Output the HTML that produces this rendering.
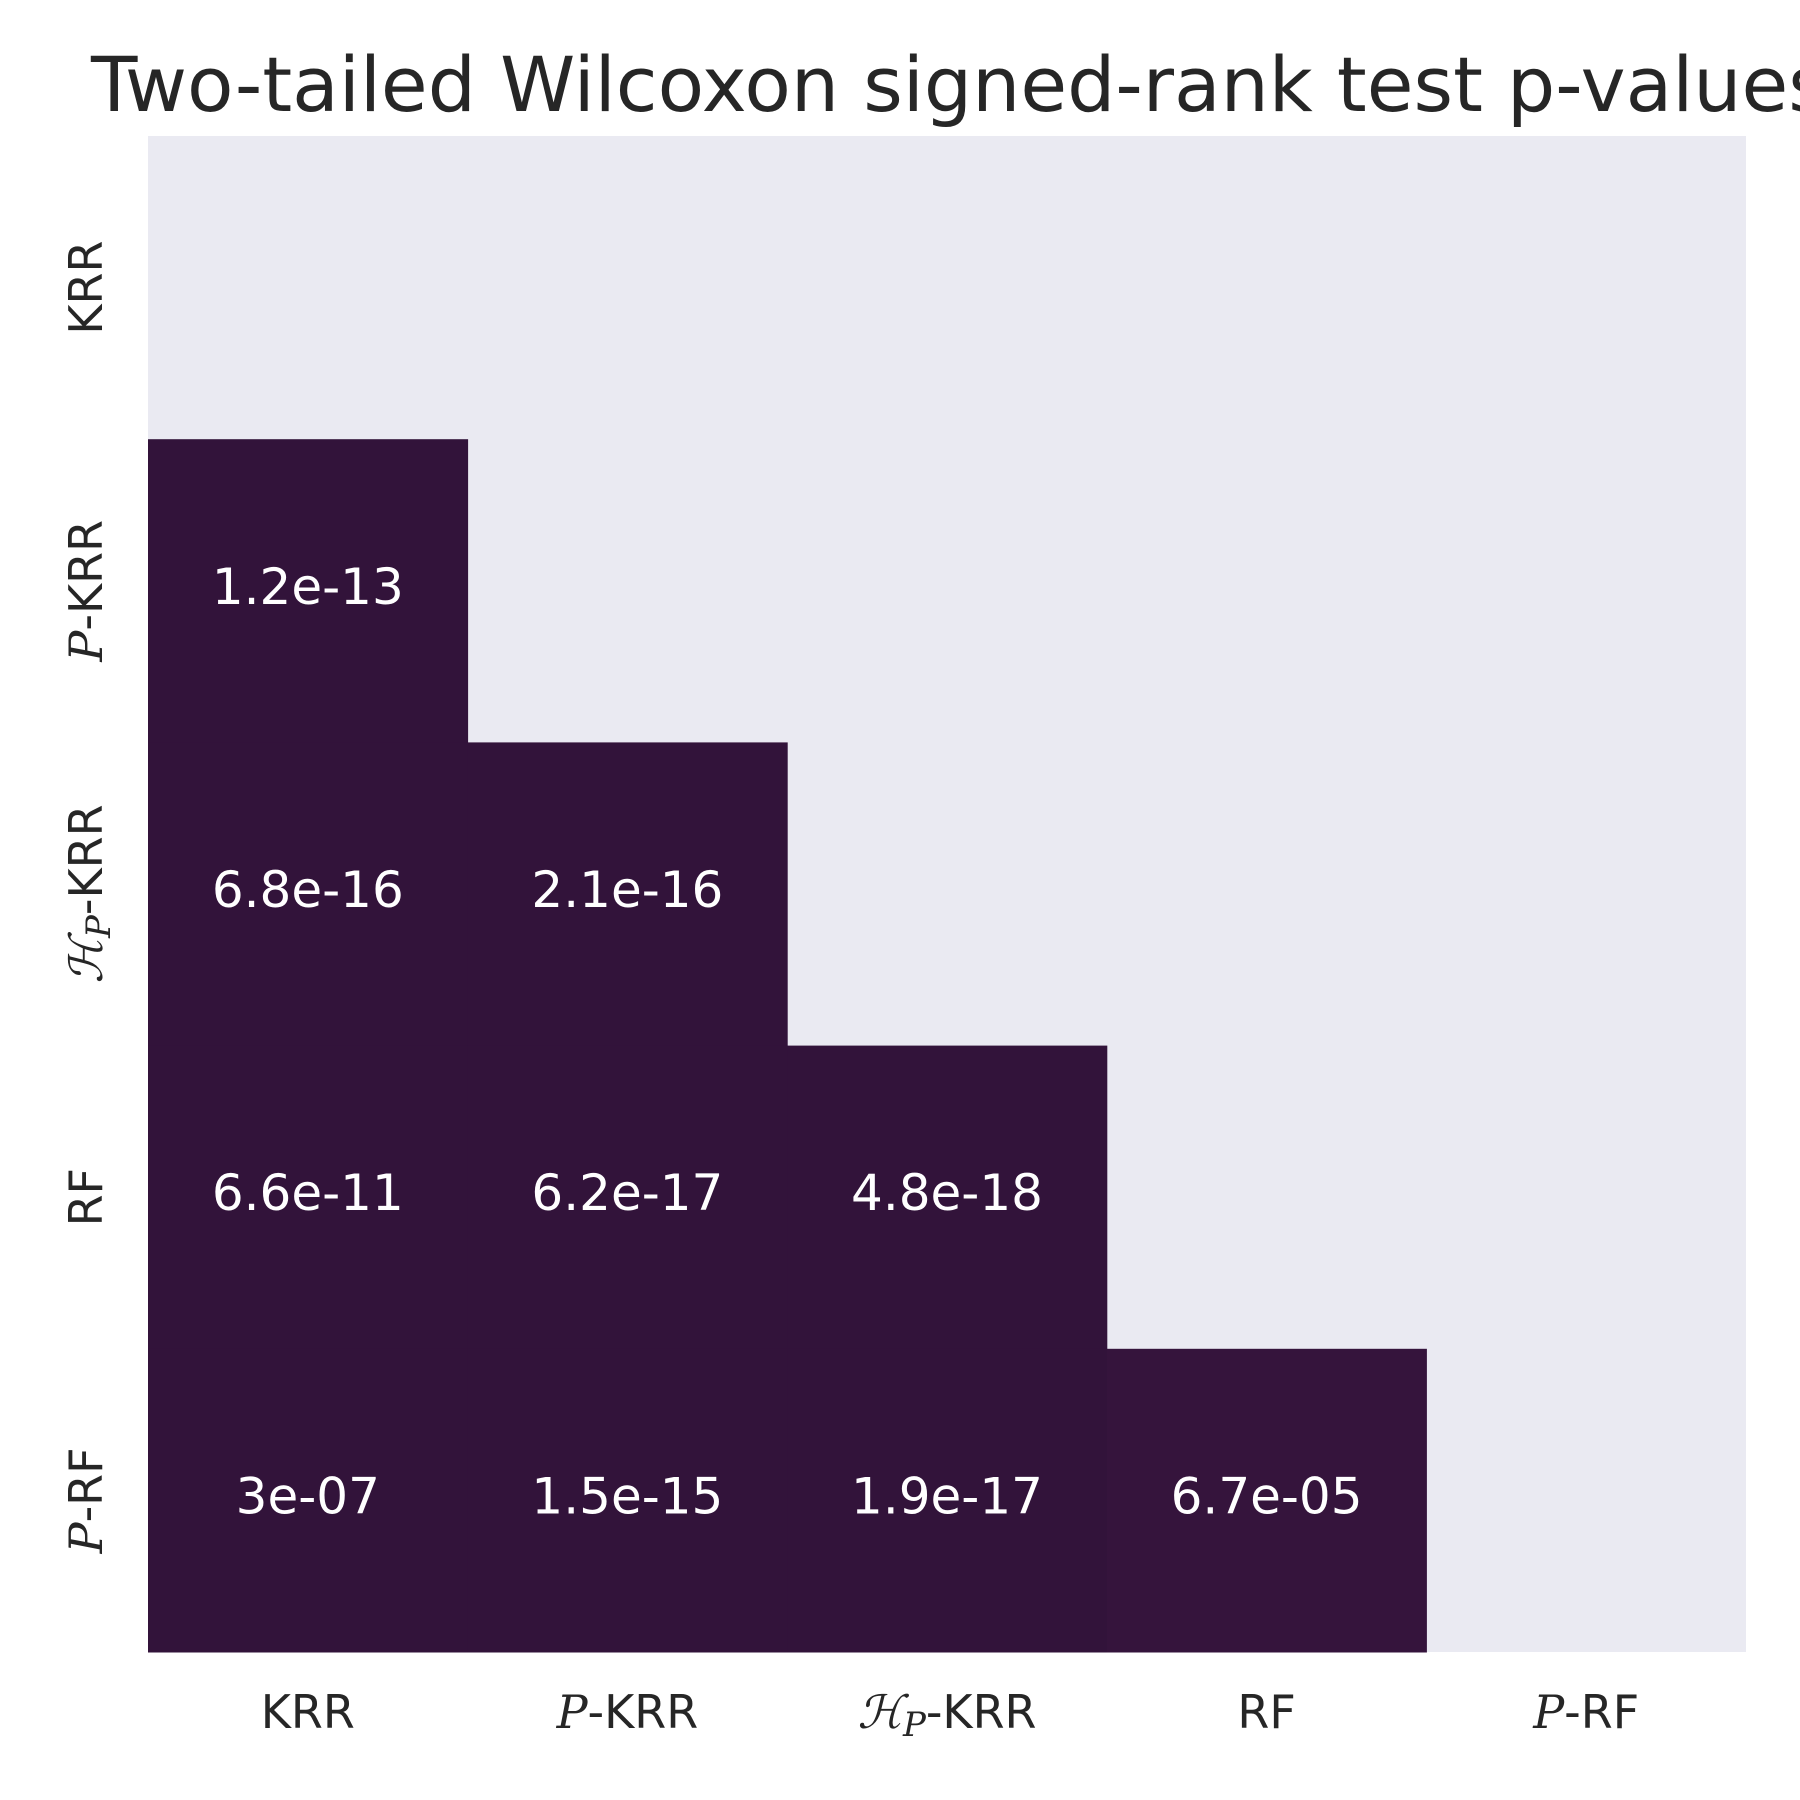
<!DOCTYPE html>
<html><head><meta charset="utf-8">
<style>
html,body{margin:0;padding:0;background:#fff;}
svg{display:block;}
text{font-family:"DejaVu Sans","Liberation Sans",sans-serif;}
.m{font-family:"DejaVu Serif","Liberation Serif",serif;font-style:italic;}
</style></head>
<body>
<svg id="chart" width="1800" height="1800" viewBox="0 0 1800 1800">
  <text x="91" y="111" font-size="76" fill="#262626">Two-tailed Wilcoxon signed-rank test p-values</text>
  <rect x="148" y="136" width="1598" height="1516" fill="#eaeaf2"/>
  <g id="cells"></g>
  <g id="xt"></g>
  <g id="yt"></g>
</svg>
<script>
const categories = ["KRR","P-KRR","HP-KRR","RF","P-RF"];
const pvalues = [
  [null,null,null,null,null],
  [1.2e-13,null,null,null,null],
  [6.8e-16,2.1e-16,null,null,null],
  [6.6e-11,6.2e-17,4.8e-18,null,null],
  [3e-07,1.5e-15,1.9e-17,6.7e-05,null]
];
const labels = [
  [null,null,null,null,null],
  ["1.2e-13",null,null,null,null],
  ["6.8e-16","2.1e-16",null,null,null],
  ["6.6e-11","6.2e-17","4.8e-18",null,null],
  ["3e-07","1.5e-15","1.9e-17","6.7e-05",null]
];
const X0=148, X1=1746, Y0=136, Y1=1652, n=categories.length;
const cw=(X1-X0)/n, ch=(Y1-Y0)/n;
function xPos(i){return X0+i*cw;}
function yPos(j){return Y0+j*ch;}
function color(p){
  const t=Math.min(1,Math.max(0,p/0.0005));
  const r=Math.round(50+t*20), g=Math.round(19+t*10), b=Math.round(58+t*14);
  return `rgb(${r},${g},${b})`;
}
const NS="http://www.w3.org/2000/svg";
const cells=document.getElementById('cells');
for(let j=0;j<n;j++)for(let i=0;i<n;i++){
  const p=pvalues[j][i]; if(p===null) continue;
  const r=document.createElementNS(NS,'rect');
  r.setAttribute('x',xPos(i));r.setAttribute('y',yPos(j));
  r.setAttribute('width',cw+0.5);r.setAttribute('height',ch+0.5);
  r.setAttribute('fill',color(p));
  
  
  cells.appendChild(r);
  const t=document.createElementNS(NS,'text');
  t.setAttribute('x',xPos(i)+cw/2);t.setAttribute('y',yPos(j)+ch/2+13);
  t.setAttribute('text-anchor','middle');t.setAttribute('font-size','50');t.setAttribute('fill','#ffffff');
  t.textContent=labels[j][i];
  
  
  cells.appendChild(t);
}
function labelHTML(c){
  if(c==="P-KRR") return '<tspan class="m">P</tspan>-KRR';
  if(c==="P-RF") return '<tspan class="m">P</tspan>-RF';
  if(c==="HP-KRR") return '<tspan class="m">ℋ</tspan><tspan class="m" font-size="34" dy="8">P</tspan><tspan dy="-8">-KRR</tspan>';
  return c;
}
const xt=document.getElementById('xt'), yt=document.getElementById('yt');
categories.forEach((c,i)=>{
  const t=document.createElementNS(NS,'text');
  t.setAttribute('x',xPos(i)+cw/2);t.setAttribute('y',1728);
  t.setAttribute('text-anchor','middle');t.setAttribute('font-size','46');t.setAttribute('fill','#262626');
  t.innerHTML=labelHTML(c);
  
  
  xt.appendChild(t);
  const u=document.createElementNS(NS,'text');
  const cy=yPos(i)+ch/2;
  u.setAttribute('transform',`translate(102,${cy}) rotate(-90)`);
  u.setAttribute('text-anchor','middle');u.setAttribute('font-size','46');u.setAttribute('fill','#262626');
  u.innerHTML=labelHTML(c);
  
  
  yt.appendChild(u);
});
</script>
</body></html>
